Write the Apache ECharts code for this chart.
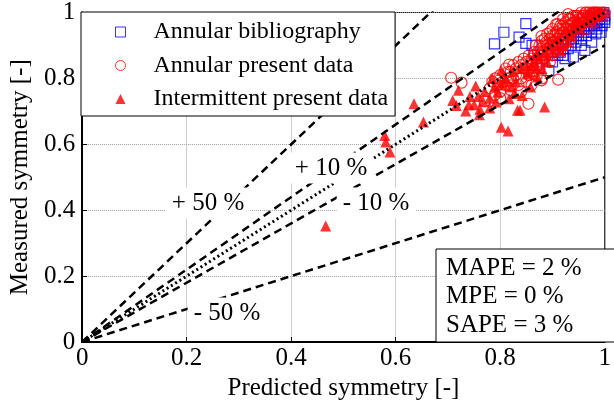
<!DOCTYPE html>
<html lang="en">
<head>
    <meta charset="UTF-8">
    <title>Measured vs predicted symmetry</title>
    <script type="text/javascript" src="https://cdn.jsdelivr.net/npm/echarts@6/dist/echarts.min.js"></script>
    <style>
        html, body { margin: 0; padding: 0; background: #fff; }
    </style>
</head>
<body>
<div id="chart" style="width:614px;height:410px;"></div>
<script type="text/javascript">
    // data: [predicted, measured]
    var seriesNames = ['Annular bibliography', 'Annular present data', 'Intermittent present data'];

    var biblioData = [
        [0.789, 0.905], [0.807, 0.940], [0.836, 0.925], [0.849, 0.966], [0.849, 0.906], [0.861, 0.900],
        [0.893, 0.824], [0.924, 0.860], [0.940, 0.865], [0.962, 0.885], [0.983, 0.935], [0.870, 0.840],
        [0.880, 0.860], [0.890, 0.880], [0.900, 0.870], [0.905, 0.890], [0.910, 0.900], [0.915, 0.880],
        [0.920, 0.910], [0.925, 0.900], [0.930, 0.920], [0.935, 0.900], [0.940, 0.930], [0.945, 0.910],
        [0.950, 0.940], [0.955, 0.920], [0.960, 0.950], [0.965, 0.930], [0.970, 0.960], [0.975, 0.940],
        [0.980, 0.970], [0.985, 0.950], [0.990, 0.980], [0.995, 0.960], [1.000, 0.990], [0.998, 1.000],
        [0.990, 1.000], [0.980, 0.990], [0.970, 0.980], [0.960, 0.970], [0.950, 0.960], [0.940, 0.950],
        [1.000, 0.970], [0.993, 0.940], [0.975, 0.910], [0.955, 0.900], [0.900, 0.850], [0.865, 0.870],
        [0.920, 0.870], [0.995, 0.995], [0.985, 0.975], [0.900, 0.880], [0.910, 0.870], [0.920, 0.890],
        [0.930, 0.890], [0.940, 0.920], [0.950, 0.930], [0.960, 0.940], [0.970, 0.950], [0.975, 0.970],
        [0.980, 0.960], [0.990, 0.970], [1.000, 0.980], [0.990, 0.990], [0.965, 0.960], [0.955, 0.950],
        [0.945, 0.940], [0.935, 0.930], [0.925, 0.920]
    ];

    var annularData = [
        [0.706, 0.802], [0.726, 0.787], [0.817, 0.842], [0.820, 0.764], [0.854, 0.723], [0.879, 0.928],
        [0.907, 0.964], [0.911, 0.796], [0.930, 0.981], [0.820, 0.779], [0.879, 0.794],
        [0.840, 0.800], [0.845, 0.830], [0.850, 0.850], [0.855, 0.810], [0.860, 0.860], [0.862, 0.840],
        [0.865, 0.870], [0.870, 0.850], [0.872, 0.880], [0.875, 0.830], [0.878, 0.890], [0.880, 0.870],
        [0.883, 0.900], [0.885, 0.860], [0.888, 0.910], [0.890, 0.890], [0.892, 0.880], [0.895, 0.920],
        [0.897, 0.900], [0.900, 0.930], [0.902, 0.910], [0.905, 0.890], [0.907, 0.940], [0.910, 0.920],
        [0.912, 0.950], [0.915, 0.930], [0.918, 0.910], [0.920, 0.960], [0.922, 0.940], [0.925, 0.970],
        [0.927, 0.950], [0.930, 0.930], [0.932, 0.980], [0.935, 0.960], [0.937, 0.940], [0.940, 0.990],
        [0.942, 0.970], [0.945, 0.950], [0.948, 0.990], [0.950, 0.980], [0.953, 0.960], [0.955, 1.000],
        [0.958, 0.990], [0.960, 0.970], [0.963, 1.000], [0.965, 0.980], [0.968, 0.990], [0.970, 1.000],
        [0.972, 0.970], [0.975, 0.995], [0.978, 1.000], [0.980, 0.985], [0.983, 1.000], [0.985, 0.990],
        [0.988, 1.000], [0.990, 0.995], [0.993, 1.000], [0.996, 1.000], [0.998, 0.990], [0.860, 0.820],
        [0.868, 0.900], [0.880, 0.915], [0.890, 0.935], [0.900, 0.950], [0.910, 0.965], [0.920, 0.980],
        [0.930, 0.995], [0.830, 0.810], [0.835, 0.780], [0.825, 0.800], [0.840, 0.760], [0.850, 0.790],
        [0.870, 0.810], [0.880, 0.800], [0.895, 0.850], [0.900, 0.870], [0.915, 0.880], [0.920, 0.900],
        [0.935, 0.920], [0.950, 0.940], [0.965, 0.950], [0.980, 0.970], [0.810, 0.780], [0.800, 0.760],
        [0.815, 0.820], [0.860, 0.780], [0.780, 0.770], [0.785, 0.790], [0.790, 0.800], [0.795, 0.780],
        [0.800, 0.810], [0.805, 0.790], [0.810, 0.830], [0.815, 0.800], [0.820, 0.820], [0.825, 0.840],
        [0.830, 0.830], [0.835, 0.850], [0.840, 0.840], [0.845, 0.860], [0.850, 0.830], [0.855, 0.870],
        [0.860, 0.850], [0.865, 0.880], [0.870, 0.860], [0.875, 0.900], [0.880, 0.880], [0.885, 0.920],
        [0.890, 0.900], [0.895, 0.940], [0.900, 0.910], [0.905, 0.930], [0.910, 0.940], [0.915, 0.960],
        [0.920, 0.950], [0.925, 0.930], [0.930, 0.960], [0.935, 0.980], [0.940, 0.970], [0.945, 0.990],
        [0.950, 0.970], [0.955, 0.980], [0.960, 0.990], [0.965, 1.000], [0.970, 0.985], [0.975, 1.000],
        [0.980, 1.000], [0.985, 1.000], [0.990, 0.990], [1.000, 1.000], [0.770, 0.730], [0.790, 0.750],
        [0.800, 0.740]
    ];

    var intermittentData = [
        [0.466, 0.352], [0.579, 0.627], [0.581, 0.607], [0.589, 0.577], [0.635, 0.723], [0.653, 0.668],
        [0.709, 0.733], [0.716, 0.718], [0.720, 0.764], [0.734, 0.701], [0.742, 0.745], [0.753, 0.777],
        [0.758, 0.745], [0.761, 0.706], [0.767, 0.731], [0.789, 0.774], [0.792, 0.728], [0.795, 0.758],
        [0.802, 0.824], [0.802, 0.652], [0.808, 0.789], [0.815, 0.640], [0.817, 0.738], [0.820, 0.774],
        [0.827, 0.754], [0.833, 0.703], [0.838, 0.703], [0.842, 0.748], [0.852, 0.813], [0.858, 0.774],
        [0.871, 0.804], [0.885, 0.713], [0.860, 0.840], [0.875, 0.860], [0.880, 0.830], [0.890, 0.870],
        [0.900, 0.880], [0.905, 0.900], [0.910, 0.920], [0.920, 0.900], [0.930, 0.940], [0.935, 0.930],
        [0.940, 0.960], [0.950, 0.950], [0.960, 0.970], [0.965, 0.980], [0.970, 0.990], [0.980, 0.990],
        [0.990, 1.000], [0.985, 0.995], [0.975, 0.975], [0.955, 0.965], [0.945, 0.975], [0.895, 0.905],
        [0.870, 0.875], [0.855, 0.820], [0.915, 0.885], [0.930, 0.910], [0.750, 0.720], [0.770, 0.760],
        [0.780, 0.740], [0.785, 0.800], [0.800, 0.780], [0.810, 0.800], [0.825, 0.820], [0.830, 0.790],
        [0.840, 0.830], [0.850, 0.840], [0.865, 0.850], [0.870, 0.830], [0.885, 0.880], [0.890, 0.850],
        [0.905, 0.920], [0.925, 0.950], [0.950, 0.970], [0.980, 1.000], [0.995, 1.000], [0.760, 0.690],
        [0.780, 0.710], [0.740, 0.720]
    ];

    // error bands: measured = factor * predicted
    var bandFactors = [1.5, 1.1, 1.0, 0.9, 0.5];
    var bandLabels = ['+ 50 %', '+ 10 %', '- 10 %', '- 50 %'];
    var statsLabels = ['MAPE = 2 %', 'MPE = 0 %', 'SAPE = 3 %'];

    var FONT = '"Liberation Serif", "Times New Roman", serif';
    var myChart = echarts.init(document.getElementById('chart'));

    var bandSeries = bandFactors.map(function (f) {
        return {
            type: 'line',
            silent: true,
            showSymbol: false,
            symbol: 'none',
            z: 3,
            data: [[0, 0], [1, f]],
            lineStyle: {
                color: '#000',
                width: f === 1 ? 3 : 2.5,
                type: f === 1 ? [2, 3] : [8, 5]
            }
        };
    });

    // label positions in pixels (centre)
    var labelPos = [[208, 203], [331, 168], [376, 203], [227, 313]];
    var labelGraphics = bandLabels.map(function (t, i) {
        return {
            type: 'text',
            x: labelPos[i][0],
            y: labelPos[i][1],
            z: 100,
            style: {
                text: t,
                font: '25px ' + FONT,
                fill: '#000',
                align: 'center',
                verticalAlign: 'middle',
                backgroundColor: '#fff',
                padding: [3, 6]
            }
        };
    });

    var statsGraphics = [{
        type: 'rect',
        z: 100,
        shape: {x: 436, y: 249, width: 200, height: 93},
        style: {fill: '#fff', stroke: '#000', lineWidth: 1}
    }].concat(statsLabels.map(function (t, i) {
        return {
            type: 'text',
            z: 101,
            x: 446,
            y: 268 + i * 28.5,
            style: {
                text: t,
                font: '25px ' + FONT,
                fill: '#000',
                verticalAlign: 'middle'
            }
        };
    }));

    var option = {
        animation: false,
        backgroundColor: '#fff',
        textStyle: {fontFamily: FONT},
        grid: {left: 81, right: 1, top: 12, bottom: 68, show: true, borderColor: '#000', borderWidth: 1},
        legend: {
            orient: 'vertical',
            left: 81,
            top: 12,
            z: 10,
            backgroundColor: '#fff',
            borderColor: '#000',
            borderWidth: 1,
            borderRadius: 0,
            padding: [7, 7, 4, 34],
            itemGap: 7.5,
            itemWidth: 10,
            itemHeight: 10,
            selectedMode: false,
            textStyle: {fontSize: 24, fontFamily: FONT, color: '#000', lineHeight: 26, padding: [0, 0, 0, 23]},
            data: [
                {name: seriesNames[0], icon: 'rect', itemStyle: {color: 'transparent', borderColor: '#0000ff', borderWidth: 1}},
                {name: seriesNames[1], icon: 'circle', itemStyle: {color: 'transparent', borderColor: '#ff0000', borderWidth: 1}},
                {name: seriesNames[2], icon: 'triangle', itemStyle: {color: '#ff0000', borderWidth: 0}}
            ]
        },
        xAxis: {
            type: 'value',
            min: 0,
            max: 1,
            interval: 0.2,
            name: 'Predicted symmetry [-]',
            nameLocation: 'middle',
            nameGap: 30,
            nameTextStyle: {fontSize: 25, fontFamily: FONT, color: '#000'},
            axisLine: {show: true, onZero: false, lineStyle: {color: '#000', width: 2}},
            axisTick: {show: true, inside: true, length: 5, lineStyle: {color: '#000'}},
            axisLabel: {fontSize: 25, fontFamily: FONT, color: '#000', margin: 4},
            splitLine: {show: true, lineStyle: {color: '#a0a0a0', type: 'dotted', width: 1}}
        },
        yAxis: {
            type: 'value',
            min: 0,
            max: 1,
            interval: 0.2,
            name: 'Measured symmetry [-]',
            nameLocation: 'middle',
            nameGap: 47,
            nameTextStyle: {fontSize: 25, fontFamily: FONT, color: '#000'},
            axisLine: {show: true, onZero: false, lineStyle: {color: '#000', width: 2}},
            axisTick: {show: true, inside: true, length: 5, lineStyle: {color: '#000'}},
            axisLabel: {fontSize: 25, fontFamily: FONT, color: '#000', margin: 7},
            splitLine: {show: true, lineStyle: {color: '#a0a0a0', type: 'dotted', width: 1}}
        },
        series: [{
            name: seriesNames[0],
            type: 'scatter',
            z: 2,
            symbol: 'rect',
            symbolSize: 10,
            data: biblioData,
            itemStyle: {color: 'transparent', borderColor: '#0000ff', borderWidth: 1.2}
        }, {
            name: seriesNames[1],
            type: 'scatter',
            z: 2,
            symbol: 'circle',
            symbolSize: 11,
            data: annularData,
            itemStyle: {color: 'transparent', borderColor: '#ff0000', borderWidth: 1.2}
        }, {
            name: seriesNames[2],
            type: 'scatter',
            z: 2,
            symbol: 'triangle',
            symbolSize: 11,
            data: intermittentData,
            itemStyle: {color: '#ff0000'}
        }].concat(bandSeries),
        graphic: labelGraphics.concat(statsGraphics)
    };
    myChart.setOption(option);
</script>
</body>
</html>
